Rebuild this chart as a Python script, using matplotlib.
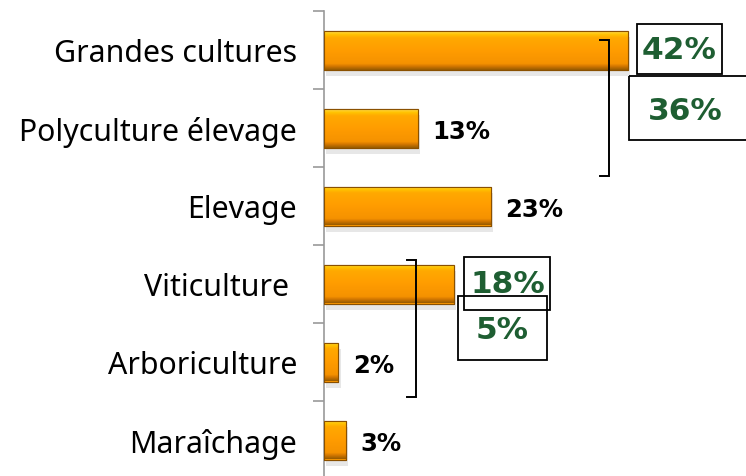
import matplotlib
matplotlib.use("Agg")
import matplotlib.pyplot as plt
import numpy as np
from matplotlib.patches import Rectangle
from matplotlib.colors import LinearSegmentedColormap

plt.rcParams["font.family"] = ["Noto Sans", "DejaVu Sans"]

categories = ["Grandes cultures", "Polyculture élevage", "Elevage", "Viticulture ", "Arboriculture", "Maraîchage"]
values = [42, 13, 23, 18, 2, 3]
highlight = [True, False, False, True, False, False]
group_labels = ["36%", "5%"]

W, H = 746, 477
fig = plt.figure(figsize=(W / 100, H / 100), dpi=100)
px_per_unit = 7.24
left_px, top_px, cat_px = 324, 12, 78
ax = fig.add_axes([left_px / W, 1 - (top_px + 6 * cat_px) / H, (W - left_px) / W, 6 * cat_px / H])
ax.set_xlim(0, (W - left_px) / px_per_unit)
ax.set_ylim(5.5, -0.5)

y = np.arange(len(categories))
bars = ax.barh(y, values, height=0.5, color="#FF9A00", edgecolor="#8A5000", linewidth=0.8, zorder=3)

cmap = LinearSegmentedColormap.from_list(
    "bev", [(0, "#FFD84A"), (0.08, "#FFC400"), (0.16, "#FFAA00"), (0.5, "#FF9C00"),
            (0.84, "#F59200"), (0.9, "#D87A00"), (1, "#9A5C00")])
grad = np.linspace(0, 1, 64).reshape(-1, 1)
for b in bars:
    x0, y0, w, h = b.get_x(), b.get_y(), b.get_width(), b.get_height()
    im = ax.imshow(grad, cmap=cmap, aspect="auto", extent=(x0, x0 + w, y0 + h, y0), zorder=4)
    im.set_clip_path(b)
    ax.add_patch(Rectangle((x0 + 0.3, y0 + 0.08), w, h, facecolor="#BBBBBB", alpha=0.35,
                           edgecolor="none", zorder=2))
    ax.add_patch(Rectangle((x0, y0), w, h, facecolor="none", edgecolor="#8A5000", linewidth=0.8, zorder=5))

bold_font = ["DejaVu Sans"]
green = "#1E5E32"
for i, (v, hl) in enumerate(zip(values, highlight)):
    if not hl:
        ax.annotate(f"{v}%", (v, i), xytext=(10.5, -2), textcoords="offset points",
                    ha="left", va="center", fontsize=17.5, fontweight="bold", color="black",
                    family=bold_font)

box_kw = dict(facecolor="none", edgecolor="black", linewidth=1.3, clip_on=False, zorder=6)
gfs = 22.5
tkw = dict(ha="center", va="center", fontsize=gfs, fontweight="bold", color=green, zorder=7,
           family=bold_font)
# 42%
ax.add_patch(Rectangle((values[0] + 1.2, -0.333), 11.8, 0.64, **box_kw))
ax.text(values[0] + 7.1, -0.01, f"{values[0]}%", **tkw)
# 36%
ax.add_patch(Rectangle((values[0] + 0.1, 0.333), 21, 0.82, **box_kw))
ax.text(values[0] + 7.9, 0.77, group_labels[0], **tkw)
# 18%
ax.add_patch(Rectangle((values[3] + 1.3, 2.654), 11.9, 0.68, **box_kw))
ax.text(values[3] + 7.4, 2.99, f"{values[3]}%", **tkw)
# 5%
ax.add_patch(Rectangle((values[3] + 0.5, 3.154), 12.3, 0.82, **box_kw))
ax.text(values[3] + 6.6, 3.58, group_labels[1], **tkw)

def bracket(x_in, x_out, y0, y1):
    ax.plot([x_in, x_out, x_out, x_in], [y0, y0, y1, y1], color="black", lw=1.4,
            zorder=6, clip_on=False, solid_joinstyle="miter")

bracket(38.1, 39.4, -0.13, 1.62)
bracket(11.5, 12.7, 2.69, 4.45)

for s in ["top", "right", "bottom"]:
    ax.spines[s].set_visible(False)
ax.spines["left"].set_color("#999999")
ax.spines["left"].set_linewidth(1.2)
ax.set_xticks([])
ax.set_yticks(np.arange(-0.5, 6.0, 1.0))
ax.set_yticklabels([])
ax.set_yticks(y, minor=True)
ax.set_yticklabels(categories, minor=True, fontsize=21.8)
ax.tick_params(axis="y", which="major", length=8, width=1.2, color="#999999", direction="out")
ax.tick_params(axis="y", which="minor", length=0, pad=19.5)

fig.savefig("out.png", dpi=100)
